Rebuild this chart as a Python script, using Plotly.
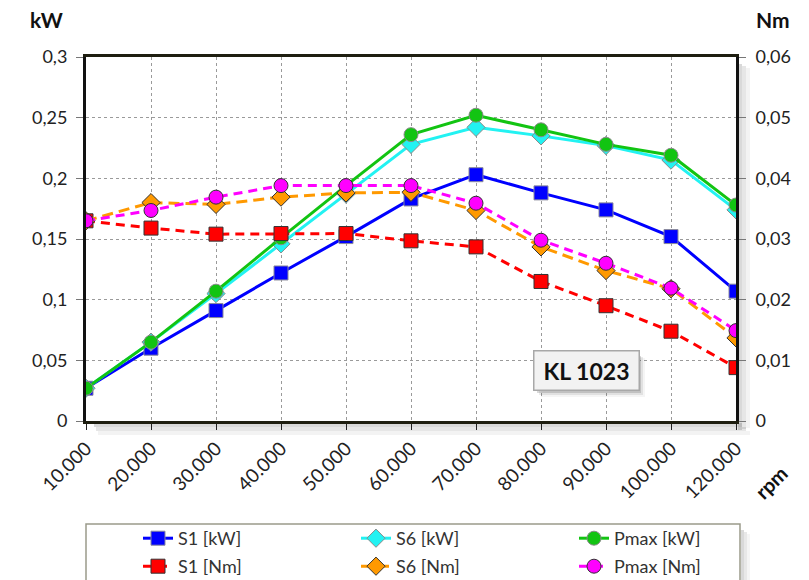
import plotly.graph_objects as go

rpm = ["10.000", "20.000", "30.000", "40.000", "50.000", "60.000",
       "70.000", "80.000", "90.000", "100.000", "120.000"]

s1_kw = [0.027, 0.060, 0.091, 0.122, 0.152, 0.183, 0.203, 0.188, 0.174, 0.152, 0.107]
s6_kw = [0.027, 0.065, 0.105, 0.146, 0.187, 0.228, 0.242, 0.235, 0.227, 0.215, 0.174]
pmax_kw = [0.027, 0.065, 0.107, 0.151, 0.194, 0.236, 0.252, 0.240, 0.228, 0.219, 0.178]

s1_nm = [0.033, 0.0318, 0.0308, 0.0309, 0.0309, 0.0297, 0.0287, 0.0230, 0.0190, 0.0148, 0.0088]
s6_nm = [0.033, 0.0360, 0.0357, 0.0369, 0.0376, 0.0377, 0.0347, 0.0287, 0.0248, 0.0218, 0.0137]
pmax_nm = [0.033, 0.0347, 0.0369, 0.0388, 0.0388, 0.0388, 0.0359, 0.0298, 0.0260, 0.0219, 0.0149]

FONT = "Lato"

fig = go.Figure()

def add(name, y, color, symbol, dash, axis, legend, mline):
    fig.add_trace(go.Scatter(
        x=rpm, y=y, name=name, mode="lines+markers", yaxis=axis, legend=legend,
        line=dict(color=color, width=3, dash=dash),
        marker=dict(symbol=symbol, size=14, color=color,
                    line=dict(color=mline, width=1)),
    ))

add("S1 [kW]", s1_kw, "#0000ff", "square", "solid", "y", "legend", "#8a8a9a")
add("S6 [kW]", s6_kw, "#22f2f2", "diamond", "solid", "y", "legend", "#8a8a8a")
add("Pmax [kW]", pmax_kw, "#12c412", "circle", "solid", "y", "legend", "#8a8a8a")
add("S1 [Nm]", s1_nm, "#ff0000", "square", "9px,6px", "y2", "legend2", "#333333")
add("S6 [Nm]", s6_nm, "#ff9900", "diamond", "11px,6px", "y2", "legend2", "#333333")
add("Pmax [Nm]", pmax_nm, "#ff00ff", "circle", "9px,6px", "y2", "legend2", "#333333")

L, R, T, B = 86, 73, 57, 159
W, H = 809, 580
pw, ph = W - L - R, H - T - B

def px(x):
    return (x - L) / pw

def py(y):
    return (H - B - y) / ph

grid = dict(showgrid=True, gridcolor="#9a9a9a", griddash="dot", gridwidth=1)
ytickfont = dict(family=FONT, size=18, color="#222222")
xtickfont = dict(family=FONT, size=19, color="#222222")
legfont = dict(family=FONT, size=18, color="#333")

fig.update_layout(
    width=W, height=H,
    margin=dict(l=L, r=R, t=T, b=B, autoexpand=False),
    separators=",.",
    paper_bgcolor="white", plot_bgcolor="white",
    font=dict(family=FONT),
    xaxis=dict(type="category", range=[0, 10], tickangle=-45, ticks="outside",
               ticklen=6, tickcolor="#222", tickfont=xtickfont,
               showline=True, linecolor="#1e1e10", linewidth=3, mirror=True,
               zeroline=False, **grid),
    yaxis=dict(range=[0, 0.3], dtick=0.05, ticks="outside", ticklen=7,
               tickcolor="#777", tickfont=ytickfont, ticklabelstandoff=5,
               showline=True, linecolor="#111", linewidth=3, zeroline=False, **grid),
    yaxis2=dict(range=[0, 0.06], dtick=0.01, overlaying="y", side="right",
                ticks="outside", ticklen=7, tickcolor="#777", tickfont=ytickfont,
                ticklabelstandoff=6, showgrid=False,
                showline=True, linecolor="#111", linewidth=3, zeroline=False),
    legend=dict(orientation="h", x=px(138), y=py(520), xanchor="left", yanchor="top",
                entrywidth=173, entrywidthmode="pixels", bgcolor="rgba(0,0,0,0)",
                font=legfont),
    legend2=dict(orientation="h", x=px(138), y=py(548), xanchor="left", yanchor="top",
                 entrywidth=173, entrywidthmode="pixels", bgcolor="rgba(0,0,0,0)",
                 font=legfont),
)

shapes = []
# plot area shadow
for i, op in enumerate([0.22, 0.14, 0.07]):
    shapes.append(dict(type="rect", xref="paper", yref="paper",
                       x0=px(738 + i * 4), x1=px(742 + i * 4), y0=py(430 - i), y1=py(64 + i * 2),
                       fillcolor=f"rgba(80,80,80,{op})", line=dict(width=0), layer="below"))
    shapes.append(dict(type="rect", xref="paper", yref="paper",
                       x0=px(94 + i * 2), x1=px(742 + i * 4), y0=py(423 + i * 4), y1=py(427 + i * 4),
                       fillcolor=f"rgba(80,80,80,{op})", line=dict(width=0), layer="below"))
# legend box shadow and box
for i, op in enumerate([0.22, 0.13, 0.06]):
    shapes.append(dict(type="rect", xref="paper", yref="paper",
                       x0=px(741 + i * 3), x1=px(744 + i * 3), y0=py(600), y1=py(530 + i * 2),
                       fillcolor=f"rgba(80,80,80,{op})", line=dict(width=0), layer="below"))
shapes.append(dict(type="rect", xref="paper", yref="paper",
                   x0=px(86), x1=px(740), y0=py(600), y1=py(524),
                   fillcolor="white", line=dict(color="#9a9a8a", width=1.5), layer="below"))
# KL box shadow
for i, op in enumerate([0.22, 0.12, 0.06]):
    shapes.append(dict(type="rect", xref="paper", yref="paper",
                       x0=px(537 + i * 2), x1=px(641 + i * 2), y0=py(393 + i * 2), y1=py(356 + i),
                       fillcolor=f"rgba(80,80,80,{op})", line=dict(width=0), layer="above"))
fig.update_layout(shapes=shapes)

fig.add_annotation(xref="paper", yref="paper", x=px(586), y=py(370), text="<b>KL 1023</b>",
                   xanchor="center", yanchor="middle",
                   showarrow=False, font=dict(family=FONT, size=23, color="#111"),
                   bgcolor="#f2f2f2", bordercolor="#a8a8a8", borderwidth=1.5,
                   width=100, height=34, borderpad=2)
fig.add_annotation(xref="paper", yref="paper", x=px(46), y=py(20), text="<b>kW</b>",
                   xanchor="center", yanchor="middle",
                   showarrow=False, font=dict(family=FONT, size=21, color="#111"))
fig.add_annotation(xref="paper", yref="paper", x=px(773), y=py(20), text="<b>Nm</b>",
                   xanchor="center", yanchor="middle",
                   showarrow=False, font=dict(family=FONT, size=21, color="#111"))
fig.add_annotation(xref="paper", yref="paper", x=px(771), y=py(482), text="<b>rpm</b>",
                   xanchor="center", yanchor="middle",
                   showarrow=False, textangle=-45, font=dict(family=FONT, size=20, color="#111"))

fig.write_html("out.html", config={"displayModeBar": False},
               post_script="document.body.style.margin='0px';document.body.style.overflow='hidden';")
